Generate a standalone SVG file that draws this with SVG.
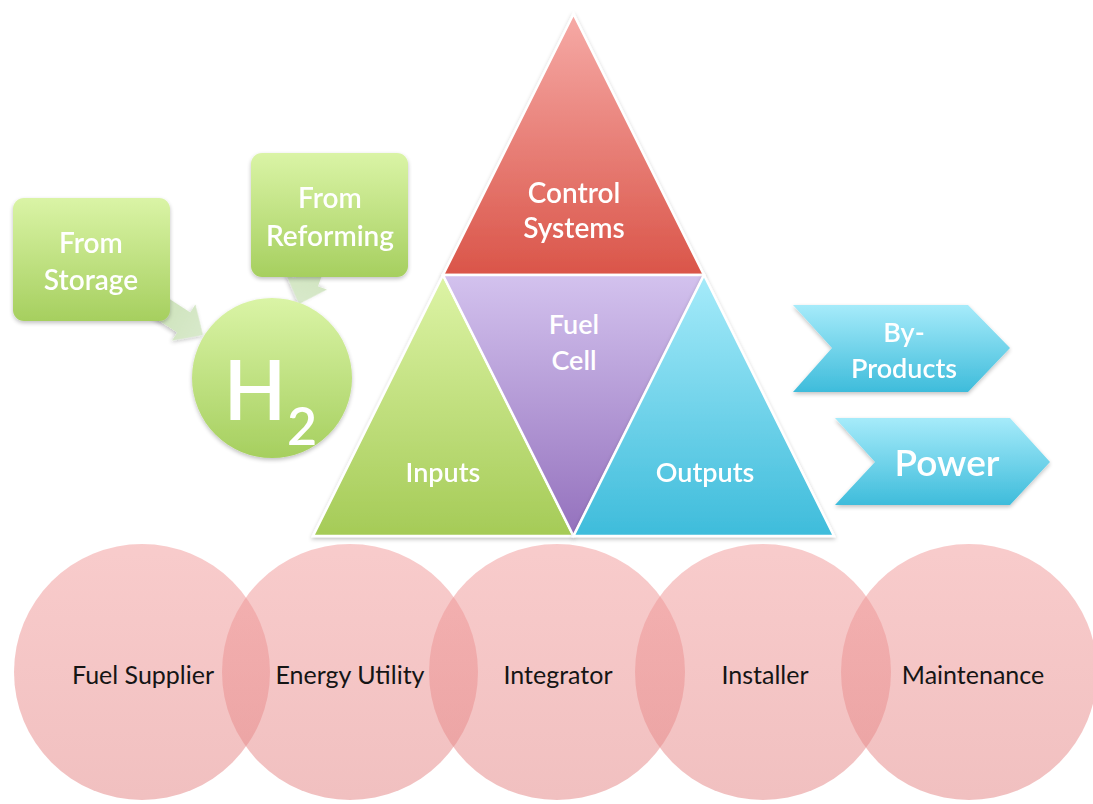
<svg xmlns="http://www.w3.org/2000/svg" width="1093" height="804" viewBox="0 0 1093 804">
  <defs>
    <linearGradient id="gRed" x1="0" y1="0" x2="0" y2="1">
      <stop offset="0" stop-color="#f6aaa6"/>
      <stop offset="1" stop-color="#da5549"/>
    </linearGradient>
    <linearGradient id="gPurple" x1="0" y1="0" x2="0" y2="1">
      <stop offset="0" stop-color="#d3c2ee"/>
      <stop offset="1" stop-color="#9471bd"/>
    </linearGradient>
    <linearGradient id="gGreen" x1="0" y1="0" x2="0" y2="1">
      <stop offset="0" stop-color="#ddf4a6"/>
      <stop offset="1" stop-color="#a5cb57"/>
    </linearGradient>
    <linearGradient id="gCyan" x1="0" y1="0" x2="0" y2="1">
      <stop offset="0" stop-color="#a6ebfa"/>
      <stop offset="1" stop-color="#3ebcdb"/>
    </linearGradient>
    <linearGradient id="gBox" x1="0" y1="0" x2="0" y2="1">
      <stop offset="0" stop-color="#daf4a6"/>
      <stop offset="1" stop-color="#a6cf5f"/>
    </linearGradient>
    <linearGradient id="gArrow" x1="0" y1="0" x2="1" y2="0">
      <stop offset="0" stop-color="#c9e0b4"/>
      <stop offset="1" stop-color="#d8e9cb"/>
    </linearGradient>
    <linearGradient id="gPink" x1="0" y1="0" x2="0" y2="1">
      <stop offset="0" stop-color="#f29c9c"/>
      <stop offset="1" stop-color="#e48686"/>
    </linearGradient>
    <filter id="shadow" x="-10%" y="-10%" width="120%" height="125%">
      <feGaussianBlur in="SourceAlpha" stdDeviation="2"/>
      <feOffset dx="0" dy="2" result="b"/>
      <feComponentTransfer><feFuncA type="linear" slope="0.25"/></feComponentTransfer>
      <feMerge><feMergeNode/><feMergeNode in="SourceGraphic"/></feMerge>
    </filter>
  </defs>
  <style>
    .lbl { font-family: Lato, "Liberation Sans", sans-serif; fill: #ffffff; text-anchor: middle; font-weight: 600; }
    .dark { font-family: Lato, "Liberation Sans", sans-serif; fill: #151515; text-anchor: middle; font-size: 25px; }
    .tri { stroke: #ffffff; stroke-width: 2.5; stroke-linejoin: miter; }
    .ring { fill: url(#gPink); fill-opacity: 0.52; }
    .flow { fill: url(#gArrow); filter: url(#shadow); }
  </style>

  <rect width="1093" height="804" fill="#ffffff"/>

  <!-- block arrows feeding the hydrogen bubble -->
  <g id="connectors">
    <polygon class="flow" transform="translate(203 335) rotate(33)" points="0,0 -23,-21.5 -23,-12 -75,-12 -75,12 -23,12 -23,21.5"/>
    <polygon class="flow" transform="translate(299 304) rotate(109.6)" points="0,0 -23,-21.5 -23,-12 -75,-12 -75,12 -23,12 -23,21.5"/>
  </g>

  <g id="from-storage" filter="url(#shadow)">
    <rect x="13" y="198" width="157" height="123" rx="11" fill="url(#gBox)"/>
    <text class="lbl" x="91" y="253" font-size="28">From</text>
    <text class="lbl" x="91" y="290" font-size="28">Storage</text>
  </g>

  <g id="from-reforming" filter="url(#shadow)">
    <rect x="251" y="153" width="157" height="124" rx="11" fill="url(#gBox)"/>
    <text class="lbl" x="330" y="208" font-size="28">From</text>
    <text class="lbl" x="330" y="246" font-size="28">Reforming</text>
  </g>

  <g id="h2" filter="url(#shadow)">
    <circle cx="272" cy="378" r="80" fill="url(#gBox)"/>
    <text class="lbl" x="255" y="420" font-size="82" font-weight="400">H</text>
    <text class="lbl" x="302" y="445" font-size="52" font-weight="400">2</text>
  </g>

  <!-- fuel cell pyramid -->
  <g id="control-systems" filter="url(#shadow)">
    <polygon class="tri" points="573.5,14 443,275 704,275" fill="url(#gRed)"/>
    <text class="lbl" x="574" y="203" font-size="28">Control</text>
    <text class="lbl" x="574" y="238" font-size="28">Systems</text>
  </g>

  <g id="inputs" filter="url(#shadow)">
    <polygon class="tri" points="443,275 313,536 573.5,536" fill="url(#gGreen)"/>
    <text class="lbl" x="443" y="482" font-size="27">Inputs</text>
  </g>

  <g id="fuel-cell">
    <polygon class="tri" points="443,275 704,275 573.5,536" fill="url(#gPurple)"/>
    <text class="lbl" x="574" y="334" font-size="27">Fuel</text>
    <text class="lbl" x="574" y="370" font-size="27">Cell</text>
  </g>

  <g id="outputs" filter="url(#shadow)">
    <polygon class="tri" points="704,275 573.5,536 834,536" fill="url(#gCyan)"/>
    <text class="lbl" x="705" y="482" font-size="27">Outputs</text>
  </g>

  <g id="by-products" filter="url(#shadow)">
    <polygon points="793,305 968,305 1010,348 968,392 793,392 832,348" fill="url(#gCyan)"/>
    <text class="lbl" x="904" y="342" font-size="27">By-</text>
    <text class="lbl" x="904" y="378" font-size="27">Products</text>
  </g>

  <g id="power" filter="url(#shadow)">
    <polygon points="835,418 1010,418 1050,462 1010,505 835,505 875,462" fill="url(#gCyan)"/>
    <text class="lbl" x="947" y="476" font-size="37">Power</text>
  </g>

  <!-- overlapping stakeholder circles -->
  <g id="fuel-supplier">
    <circle class="ring" cx="142" cy="672" r="128"/>
    <text class="dark" x="143" y="684">Fuel Supplier</text>
  </g>
  <g id="energy-utility">
    <circle class="ring" cx="350" cy="672" r="128"/>
    <text class="dark" x="350" y="684">Energy Utility</text>
  </g>
  <g id="integrator">
    <circle class="ring" cx="557" cy="672" r="128"/>
    <text class="dark" x="558" y="684">Integrator</text>
  </g>
  <g id="installer">
    <circle class="ring" cx="763" cy="672" r="128"/>
    <text class="dark" x="765" y="684">Installer</text>
  </g>
  <g id="maintenance">
    <circle class="ring" cx="969" cy="672" r="128"/>
    <text class="dark" x="973" y="684">Maintenance</text>
  </g>
</svg>
